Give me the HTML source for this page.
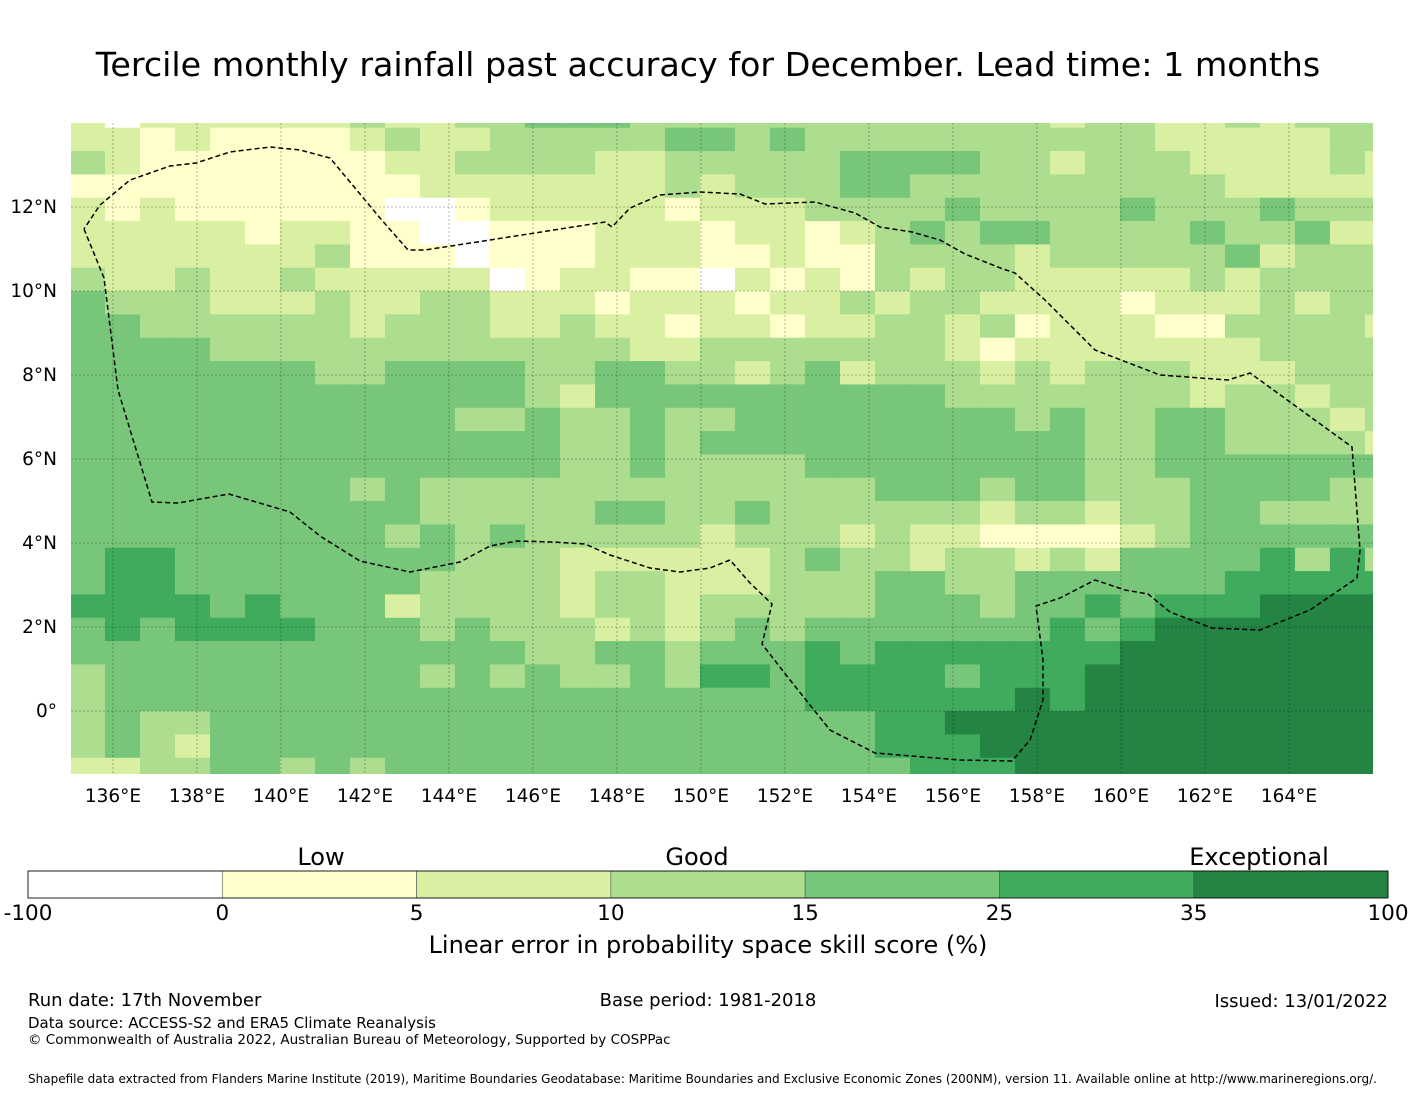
<!DOCTYPE html>
<html><head><meta charset="utf-8">
<style>
body{margin:0;background:#fff;}
#wrap{position:relative;width:1416px;height:1095px;font-family:"DejaVu Sans","Liberation Sans",sans-serif;color:#000;overflow:hidden;}
.t{position:absolute;white-space:nowrap;}
</style></head>
<body>
<div id="wrap">
<div class="t" style="left:0;width:1416px;text-align:center;top:45px;font-size:33.3px;">Tercile monthly rainfall past accuracy for December. Lead time: 1 months</div>
<svg id="map" width="1416" height="830" style="position:absolute;left:0;top:0;"></svg>
<svg id="cbar" width="1416" height="100" style="position:absolute;left:0;top:840px;"></svg>
<div class="t" style="left:0;width:1416px;text-align:center;top:931px;font-size:24px;">Linear error in probability space skill score (%)</div>
<div class="t" style="left:28px;top:990px;font-size:18px;">Run date: 17th November</div>
<div class="t" style="left:0;width:1416px;text-align:center;top:990px;font-size:18px;">Base period: 1981-2018</div>
<div class="t" style="right:28px;top:991px;font-size:18px;">Issued: 13/01/2022</div>
<div class="t" style="left:28px;top:1014px;font-size:15px;">Data source: ACCESS-S2 and ERA5 Climate Reanalysis</div>
<div class="t" style="left:28px;top:1032px;font-size:13.5px;">© Commonwealth of Australia 2022, Australian Bureau of Meteorology, Supported by COSPPac</div>
<div class="t" style="left:28px;top:1072px;font-size:12px;">Shapefile data extracted from Flanders Marine Institute (2019), Maritime Boundaries Geodatabase: Maritime Boundaries and Exclusive Economic Zones (200NM), version 11. Available online at http://www.marineregions.org/.</div>
</div>
<script>
const classColors = ["#ffffff","#ffffcc","#d9f0a3","#addd8e","#78c679","#41ab5d","#238443"];
const classBreaks = ["-100","0","5","10","15","25","35","100"];
const classNames = ["Low","Good","Exceptional"];
const lonTicks = [136,138,140,142,144,146,148,150,152,154,156,158,160,162,164];
const latTicks = [0,2,4,6,8,10,12];
const gridLon0 = 134.976, gridLat0 = 14.443, dLon = 0.8333, dLat = 0.5556;
const skillClassRows = [
["2022222232233","444","33333333","33332332232333"],
["221211112322","3","333344343333","3333332222233"],
["321111111223","3","332233333444","4332333222232"],
["111111111122","2","222232333443","3333333322222"],
["212111111001","2","222212223333","4333343334333"],
["222221221100","1","112221221234","3443333433422"],
["222222231110","1","112221121133","3323333342333"],
["322322322222","0","122110212132","3322222323333"],
["433322232233","2","221222122323","3222212223233"],
["443333332333","2","232212212233","2312221133332"],
["444433333333","3","333223333333","2122222223333"],
["444444433444","4","334433234233","3232333222333"],
["444444444444","4","324444444444","3333333233233"],
["444444444443","3","433433444444","4434334433323"],
["444444444444","4","433434444444","4444334433332"],
["444444444444","4","433433334444","4444334444444"],
["444444443433","3","333333333344","4344333444433"],
["444444444433","3","334433433333","3233233443333"],
["444444444343","4","333332333232","2111123444444"],
["455444444443","3","322222234332","3323244445353"],
["455444444433","3","323322233344","3344444455555"],
["555545444233","3","323323333344","4344545556666"],
["454555544434","3","332323434444","4445456666666"],
["444444444444","4","334434445455","5555566666666"],
["344444444434","3","433435545555","4555666666666"],
["344444444444","4","444444445555","5565666666666"],
["343344444444","4","444444444455","6666666666666"],
["343244444444","4","444444444455","5666666666666"],
["223344343444","4","444444444445","5566666666666"]
];
</script>
<script>
const NS="http://www.w3.org/2000/svg";
const FF="DejaVu Sans, Liberation Sans, sans-serif";
const X0=71,X1=1373,Y0=123,Y1=774;
function xOf(lon){return 113+(lon-136)*42;}
function yOf(lat){return 711-lat*42;}
function mk(tag,attrs,parent){const e=document.createElementNS(NS,tag);for(const k in attrs)e.setAttribute(k,attrs[k]);parent.appendChild(e);return e;}
const map=document.getElementById('map');
const defs=mk('defs',{},map);
const cp=mk('clipPath',{id:'clipMap'},defs);
mk('rect',{x:X0,y:Y0,width:X1-X0,height:Y1-Y0},cp);
const g=mk('g',{'clip-path':'url(#clipMap)'},map);


skillClassRows.forEach((segs,r)=>{
  const row=segs.join('');
  for(let c=0;c<38;c++){
    const v=+(row[c]||row[row.length-1]);
    const lonL=gridLon0+c*dLon, latT=gridLat0-r*dLat;
    const x=xOf(lonL), y=yOf(latT);
    const w=xOf(lonL+dLon)-x, h=yOf(latT-dLat)-y;
    const rc=mk('rect',{x:x.toFixed(2),y:y.toFixed(2),width:(w+0.4).toFixed(2),height:(h+0.4).toFixed(2),fill:classColors[v]},g);
    
    
  }
});
const gl=mk('g',{stroke:'#000','stroke-opacity':'0.35','stroke-width':'0.8','stroke-dasharray':'2,2'},map);


lonTicks.forEach(l=>{mk('line',{x1:xOf(l),x2:xOf(l),y1:Y0,y2:Y1},gl);});
latTicks.forEach(l=>{mk('line',{x1:X0,x2:X1,y1:yOf(l),y2:yOf(l)},gl);});
const eezPts=[[84,229],[104,278],[118,390],[152,502],[178,503],[229,494],[290,512],[320,536],[360,561],[410,572],[460,562],[490,546],[517,541],[553,542],[585,544],[610,555],[650,568],[680,572],[710,568],[730,560],[750,583],[772,604],[762,644],[790,680],[830,730],[875,753],[960,760],[1012,761],[1030,740],[1043,700],[1043,660],[1036,606],[1060,598],[1095,580],[1125,590],[1148,594],[1170,612],[1212,628],[1260,630],[1310,610],[1357,578],[1360,550],[1352,447],[1250,373],[1228,380],[1160,375],[1095,350],[1045,300],[1015,273],[1003,269],[965,254],[940,240],[912,232],[880,227],[855,213],[815,202],[765,204],[740,194],[700,192],[660,195],[630,208],[612,227],[605,222],[490,240],[425,250],[408,250],[380,218],[330,158],[300,150],[270,147],[230,152],[196,163],[170,166],[130,180],[100,205],[84,229]];
const eez=mk('polyline',{points:eezPts.map(p=>p.join(',')).join(' '),fill:'none',stroke:'#000','stroke-width':'1.5','stroke-dasharray':'5,3'},map);


lonTicks.forEach(l=>{const t=mk('text',{x:xOf(l),y:802,'text-anchor':'middle','font-size':'18.5','font-family':FF},map);t.textContent=l+'°E';

});
latTicks.forEach(l=>{const t=mk('text',{x:57,y:yOf(l)+6,'text-anchor':'end','font-size':'18.5','font-family':FF},map);t.textContent=l===0?'0°':l+'°N';

});
const cb=document.getElementById('cbar');
const cbx0=28,cbx1=1388,cby=31,cbh=27,n=classColors.length,sw=(cbx1-cbx0)/n;
classColors.forEach((col,i)=>{const r=mk('rect',{x:cbx0+i*sw,y:cby,width:sw,height:cbh,fill:col,stroke:'#555','stroke-width':'0.6'},cb);

});
mk('rect',{x:cbx0,y:cby,width:cbx1-cbx0,height:cbh,fill:'none',stroke:'#000','stroke-width':'0.8'},cb);
classBreaks.forEach((b,i)=>{const t=mk('text',{x:cbx0+i*sw,y:cby+cbh+22,'text-anchor':'middle','font-size':'21.5','font-family':FF},cb);t.textContent=b;

});
const namePos=[321,697,1259];
classNames.forEach((nm,i)=>{const t=mk('text',{x:namePos[i],y:25,'text-anchor':'middle','font-size':'24','font-family':FF},cb);t.textContent=nm;

});
</script>
</body></html>
